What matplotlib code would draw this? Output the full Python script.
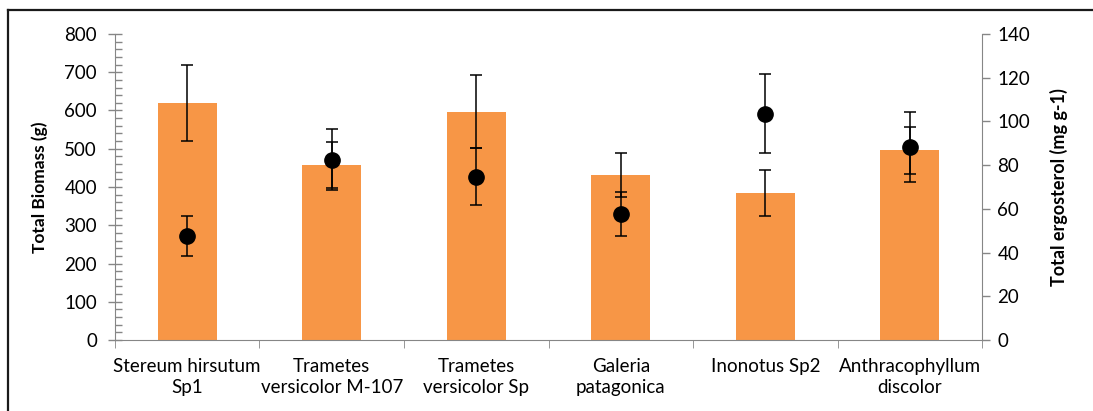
import numpy as np
import matplotlib.pyplot as plt
from matplotlib.ticker import MultipleLocator, FixedLocator
from matplotlib.lines import Line2D

# Data
species = [
    'Stereum hirsutum\nSp1',
    'Trametes\nversicolor M-107',
    'Trametes\nversicolor Sp',
    'Galeria\npatagonica',
    'Inonotus Sp2',
    'Anthracophyllum\ndiscolor',
]
biomass = [619, 457, 597, 431, 384, 496]
biomass_err = [100, 60, 96, 58, 61, 62]
ergosterol = [47.6, 82.5, 74.8, 57.5, 103.5, 88.4]
ergosterol_err = [9, 14, 13, 10, 18, 16]

AXIS_GREY = '#868686'
ORANGE = '#F79646'


def main():
    plt.rcParams['font.family'] = ['Lato', 'DejaVu Sans']
    fig = plt.figure(figsize=(10.93, 4.11), dpi=100)
    ax = fig.add_axes([0.1052, 0.1727, 0.7933, 0.7446])

    x = np.arange(len(species))

    # Bars (left axis)
    ax.bar(x, biomass, width=0.41, color=ORANGE, zorder=2)
    ax.errorbar(x, biomass, yerr=biomass_err, fmt='none', ecolor='black',
                elinewidth=1.1, capsize=4.5, capthick=1.1, zorder=3)

    ax.set_xlim(-0.5, len(species) - 0.5)
    ax.set_ylim(0, 800)
    ax.yaxis.set_major_locator(MultipleLocator(100))
    ax.yaxis.set_minor_locator(MultipleLocator(20))
    ax.set_ylabel('Total Biomass (g)', fontsize=12.5, fontweight='bold', labelpad=12)

    ax.set_xticks(x)
    ax.set_xticklabels(species, fontsize=13.5, linespacing=1.3)
    ax.xaxis.set_minor_locator(FixedLocator(np.arange(-0.5, len(species), 1.0)))
    ax.tick_params(axis='x', which='major', length=0, pad=13)
    ax.tick_params(axis='x', which='minor', length=6, color=AXIS_GREY, direction='out')
    ax.tick_params(axis='y', which='major', direction='inout', length=10, width=1,
                   color=AXIS_GREY, labelsize=13.5, pad=8)
    ax.tick_params(axis='y', which='minor', direction='in', length=5, width=1,
                   color=AXIS_GREY)

    for side in ('top', 'right'):
        ax.spines[side].set_visible(False)
    for side in ('left', 'bottom'):
        ax.spines[side].set_color(AXIS_GREY)

    # Points (right axis)
    ax2 = ax.twinx()
    ax2.errorbar(x, ergosterol, yerr=ergosterol_err, fmt='o', color='black',
                 markersize=11, elinewidth=1.1, capsize=4.5, capthick=1.1, zorder=4)
    ax2.set_ylim(0, 140)
    ax2.yaxis.set_major_locator(MultipleLocator(20))
    ax2.set_ylabel('Total ergosterol (mg g-1)', fontsize=13, fontweight='bold',
                   labelpad=14)
    ax2.tick_params(axis='y', which='major', direction='out', length=6, width=1,
                    color=AXIS_GREY, labelsize=13.5, pad=5)
    for side in ('top', 'left', 'bottom'):
        ax2.spines[side].set_visible(False)
    ax2.spines['right'].set_color(AXIS_GREY)

    # Chart area border (only top and left visible in the crop)
    fig.add_artist(Line2D([0.0073, 1.0], [0.975, 0.975], transform=fig.transFigure,
                          color='#1a1a1a', linewidth=1.6))
    fig.add_artist(Line2D([0.0073, 0.0073], [0.0, 0.975], transform=fig.transFigure,
                          color='#1a1a1a', linewidth=1.6))

    fig.savefig('out.png', dpi=100)


if __name__ == '__main__':
    main()
